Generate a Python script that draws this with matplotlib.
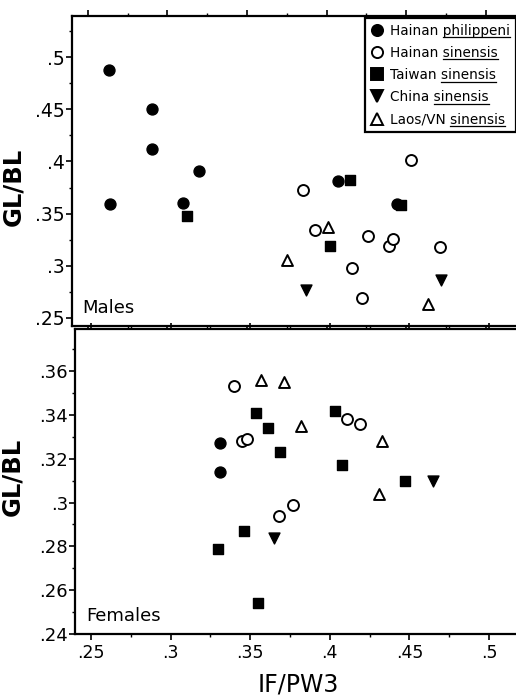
import matplotlib
matplotlib.use("Agg")
import matplotlib.pyplot as plt
from matplotlib.lines import Line2D
from matplotlib.ticker import FuncFormatter, MultipleLocator

# ---- data: (IF/PW3, GL/BL) per group ----
# males
m_phil_x = [0.263, 0.290, 0.290, 0.320, 0.264, 0.310, 0.407, 0.444]
m_phil_y = [0.488, 0.450, 0.412, 0.391, 0.359, 0.360, 0.381, 0.359]
m_hsin_x = [0.385, 0.393, 0.453, 0.426, 0.439, 0.442, 0.471, 0.416, 0.422]
m_hsin_y = [0.373, 0.334, 0.401, 0.329, 0.319, 0.326, 0.318, 0.298, 0.269]
m_tw_x = [0.312, 0.415, 0.402, 0.447]
m_tw_y = [0.348, 0.382, 0.319, 0.358]
m_cn_x = [0.387, 0.472]
m_cn_y = [0.277, 0.286]
m_lv_x = [0.375, 0.401, 0.464]
m_lv_y = [0.306, 0.337, 0.263]

# females
f_phil_x = [0.331, 0.331]
f_phil_y = [0.327, 0.314]
f_hsin_x = [0.340, 0.345, 0.348, 0.411, 0.419, 0.368, 0.377]
f_hsin_y = [0.353, 0.328, 0.329, 0.338, 0.336, 0.294, 0.299]
f_tw_x = [0.354, 0.361, 0.369, 0.403, 0.408, 0.447, 0.346, 0.330, 0.355]
f_tw_y = [0.341, 0.334, 0.323, 0.342, 0.317, 0.310, 0.287, 0.279, 0.254]
f_cn_x = [0.465, 0.365]
f_cn_y = [0.310, 0.284]
f_lv_x = [0.357, 0.371, 0.382, 0.433, 0.431]
f_lv_y = [0.356, 0.355, 0.335, 0.328, 0.304]

GROUPS = [
    ("Hainan ", "philippeni", "o", True),
    ("Hainan ", "sinensis", "o", False),
    ("Taiwan ", "sinensis", "s", True),
    ("China ", "sinensis", "v", True),
    ("Laos/VN ", "sinensis", "^", False),
]
MALES = [(m_phil_x, m_phil_y), (m_hsin_x, m_hsin_y), (m_tw_x, m_tw_y),
         (m_cn_x, m_cn_y), (m_lv_x, m_lv_y)]
FEMALES = [(f_phil_x, f_phil_y), (f_hsin_x, f_hsin_y), (f_tw_x, f_tw_y),
           (f_cn_x, f_cn_y), (f_lv_x, f_lv_y)]

W, H = 516, 696
fig = plt.figure(figsize=(W / 100, H / 100), dpi=100)
ax1 = fig.add_axes([72 / W, 1 - 326 / H, 444 / W, 310 / H])
ax2 = fig.add_axes([75 / W, 1 - 634 / H, 441 / W, 305 / H])

fmt = FuncFormatter(lambda v, p: f"{v:g}".replace("0.", ".", 1))


def draw(ax, data):
    for (pre, sp, m, filled), (xs, ys) in zip(GROUPS, data):
        if filled:
            ax.scatter(xs, ys, s=62, marker=m, color="black", zorder=3)
        else:
            ax.scatter(xs, ys, s=62, marker=m, facecolors="white",
                       edgecolors="black", linewidths=1.4, zorder=3)
    for s in ("left", "top", "bottom"):
        ax.spines[s].set_linewidth(1.6)
    ax.spines["right"].set_visible(False)
    ax.xaxis.set_major_locator(MultipleLocator(0.05))
    ax.xaxis.set_minor_locator(MultipleLocator(0.025))
    ax.xaxis.set_major_formatter(fmt)
    ax.yaxis.set_major_formatter(fmt)
    ax.tick_params(axis="both", which="major", direction="out", length=4,
                   width=1.2, labelsize=13, pad=1)
    ax.tick_params(axis="both", which="minor", direction="out", length=2.5,
                   width=1.0)
    ax.tick_params(axis="x", top=True, which="both")


draw(ax1, MALES)
ax1.set_xlim(0.24, 0.519)
ax1.set_ylim(0.2423, 0.5394)
ax1.yaxis.set_major_locator(MultipleLocator(0.05))
ax1.yaxis.set_minor_locator(MultipleLocator(0.025))
ax1.tick_params(axis="x", labelbottom=False)
ax1.tick_params(axis="y", labelsize=13.5)
ax1.set_ylabel("GL/BL", fontsize=17.5, fontweight="bold")
ax1.yaxis.set_label_coords(-0.106, 0.448)
ax1.text(0.022, 0.028, "Males", transform=ax1.transAxes, fontsize=13,
         ha="left", va="bottom")

draw(ax2, FEMALES)
ax2.set_xlim(0.24, 0.517)
ax2.set_ylim(0.24, 0.3792)
ax2.yaxis.set_major_locator(MultipleLocator(0.02))
ax2.yaxis.set_minor_locator(MultipleLocator(0.01))
ax2.tick_params(axis="x", labelsize=12.5, pad=3)
ax2.set_ylabel("GL/BL", fontsize=17.5, fontweight="bold")
ax2.yaxis.set_label_coords(-0.1156, 0.515)
ax2.text(0.025, 0.028, "Females", transform=ax2.transAxes, fontsize=13,
         ha="left", va="bottom")
fig.text(298 / W, 0.0, "IF/PW3", fontsize=17, ha="center", va="bottom")

handles = []
for pre, sp, m, filled in GROUPS:
    handles.append(Line2D([], [], ls="none", marker=m, markersize=8,
                          markerfacecolor="black" if filled else "white",
                          markeredgecolor="black", markeredgewidth=1.4))
leg = ax1.legend(handles, [pre + sp for pre, sp, _, _ in GROUPS],
                 loc="upper right", bbox_to_anchor=(1.0, 0.995),
                 fontsize=9.8, frameon=True, fancybox=False, framealpha=1,
                 edgecolor="black", handlelength=0.9, handletextpad=0.5,
                 borderpad=0.45, labelspacing=0.6, borderaxespad=0.0)
leg.get_frame().set_linewidth(1.6)

# underline the species names, as in the original
fig.canvas.draw()
rend = fig.canvas.get_renderer()
for t, (pre, sp, _, _) in zip(leg.get_texts(), GROUPS):
    bb = t.get_window_extent(rend)
    w_sp, _, _ = rend.get_text_width_height_descent(sp, t.get_fontproperties(), ismath=False)
    y = bb.y0 + 0.5
    fig.add_artist(Line2D([(bb.x1 - w_sp) / W, bb.x1 / W], [y / H, y / H],
                          transform=fig.transFigure, color="black", lw=0.9))

fig.savefig("out.png", dpi=100)
